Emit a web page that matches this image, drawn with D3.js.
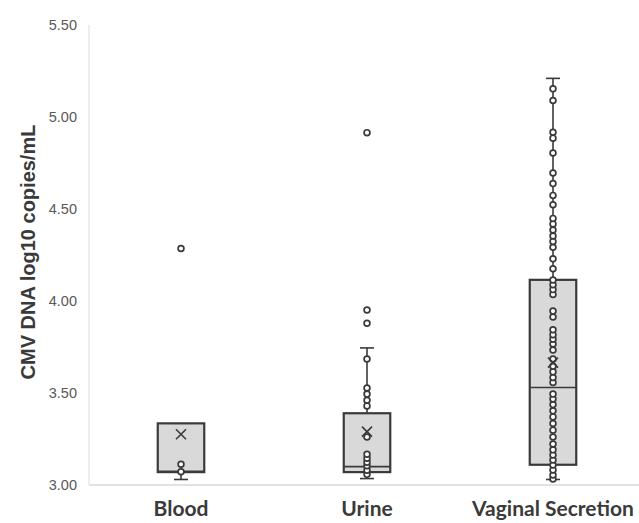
<!DOCTYPE html>
<html>
<head>
<meta charset="utf-8">
<script src="https://cdn.jsdelivr.net/npm/d3@7"></script>
<style>
  body { margin: 0; background: #fff; }
  svg { display: block; }
</style>
</head>
<body>
<svg id="chart" width="639" height="523"></svg>
<script>
const categories = ["Blood", "Urine", "Vaginal Secretion"];
const yTicks = [3.0, 3.5, 4.0, 4.5, 5.0, 5.5];

// box stats
const q1 = [3.07, 3.07, 3.11];
const median = [3.075, 3.10, 3.53];
const q3 = [3.335, 3.39, 4.115];
const whiskerLow = [3.03, 3.035, 3.03];
const whiskerHigh = [3.335, 3.745, 5.21];
const means = [3.276, 3.29, 3.665];

// individual points (inner points + outliers)
const bloodPoints = [3.072, 3.113, 4.285];
const urinePoints = [3.058, 3.080, 3.105, 3.124, 3.145, 3.167, 3.261, 3.430, 3.461,
  3.494, 3.527, 3.685, 3.879, 3.951, 4.915];
const vaginalPoints = [3.033, 3.054, 3.082, 3.109, 3.136, 3.163, 3.191, 3.223, 3.261,
  3.298, 3.334, 3.370, 3.403, 3.437, 3.467, 3.494, 3.557, 3.584, 3.615, 3.645, 3.685,
  3.734, 3.766, 3.792, 3.817, 3.844, 3.913, 3.945, 4.036, 4.062, 4.088, 4.114, 4.175,
  4.229, 4.292, 4.324, 4.353, 4.386, 4.419, 4.449, 4.523, 4.574, 4.638, 4.696, 4.804,
  4.885, 4.917, 5.090, 5.153];
const points = [bloodPoints, urinePoints, vaginalPoints];

const svg = d3.select("#chart");
const dark = "#3a3a3a";

const x = d3.scaleBand()
    .domain(categories)
    .range([88, 646]);

const y = d3.scaleLinear()
    .domain([3, 5.5])
    .range([485, 25]);

// axis lines
svg.append("line")
    .attr("x1", 89).attr("x2", 639)
    .attr("y1", y(3)).attr("y2", y(3))
    .attr("stroke", "#d9d9d9").attr("stroke-width", 1.5);
svg.append("line")
    .attr("x1", 89).attr("x2", 89)
    .attr("y1", y(5.5)).attr("y2", y(3))
    .attr("stroke", "#e3e3e3").attr("stroke-width", 1.2);

// y tick labels
svg.append("g")
    .selectAll("text")
    .data(yTicks)
    .join("text")
      .attr("x", 77)
      .attr("y", d => y(d))
      .attr("dy", "0.35em")
      .attr("text-anchor", "end")
      .attr("font-family", "'Liberation Sans', Arial, sans-serif")
      .attr("font-size", 14.5)
      .attr("fill", "#595959")
      .text(d => d3.format(".2f")(d));

// y title
svg.append("text")
    .attr("transform", "translate(35," + 252 + ") rotate(-90)")
    .attr("text-anchor", "middle")
    .attr("font-family", "'Liberation Sans', Arial, sans-serif")
    .attr("font-weight", "bold")
    .attr("font-size", 20)
    .attr("fill", dark)
    .text("CMV DNA log10 copies/mL");

// category labels
svg.append("g")
    .selectAll("text")
    .data(categories)
    .join("text")
      .attr("x", d => x(d) + x.bandwidth() / 2)
      .attr("y", 516)
      .attr("text-anchor", "middle")
      .attr("font-family", "Lato, 'Open Sans', sans-serif")
      .attr("font-weight", "bold")
      .attr("font-size", 21)
      .attr("fill", dark)
      .text(d => d);

const boxW = x.bandwidth() * 0.25;
const capW = 14;

categories.forEach((cat, i) => {
  const cx = x(cat) + x.bandwidth() / 2;
  const g = svg.append("g");

  // whiskers
  g.append("line")
      .attr("x1", cx).attr("x2", cx)
      .attr("y1", y(whiskerLow[i])).attr("y2", y(q1[i]))
      .attr("stroke", dark).attr("stroke-width", 1.6);
  g.append("line")
      .attr("x1", cx).attr("x2", cx)
      .attr("y1", y(q3[i])).attr("y2", y(whiskerHigh[i]))
      .attr("stroke", dark).attr("stroke-width", 1.6);
  [whiskerLow[i], whiskerHigh[i]].forEach(v => {
    if (v === q3[i]) return;
    g.append("line")
        .attr("x1", cx - capW / 2).attr("x2", cx + capW / 2)
        .attr("y1", y(v)).attr("y2", y(v))
        .attr("stroke", dark).attr("stroke-width", 1.6);
  });

  // box
  g.append("rect")
      .attr("x", cx - boxW / 2)
      .attr("y", y(q3[i]))
      .attr("width", boxW)
      .attr("height", y(q1[i]) - y(q3[i]))
      .attr("fill", "#d9d9d9")
      .attr("stroke", dark)
      .attr("stroke-width", 2.2);
  g.append("line")
      .attr("x1", cx - boxW / 2).attr("x2", cx + boxW / 2)
      .attr("y1", y(median[i])).attr("y2", y(median[i]))
      .attr("stroke", dark).attr("stroke-width", 1.6);

  // points
  g.selectAll("circle")
    .data(points[i])
    .join("circle")
      .attr("cx", cx)
      .attr("cy", d => y(d))
      .attr("r", 2.9)
      .attr("fill", "#fff")
      .attr("stroke", dark)
      .attr("stroke-width", 1.7);

  // mean marker
  const s = 5;
  const my = y(means[i]);
  g.append("path")
      .attr("d", `M${cx - s},${my - s}L${cx + s},${my + s}M${cx - s},${my + s}L${cx + s},${my - s}`)
      .attr("stroke", dark)
      .attr("stroke-width", 1.6)
      .attr("fill", "none");
});
</script>
</body>
</html>
